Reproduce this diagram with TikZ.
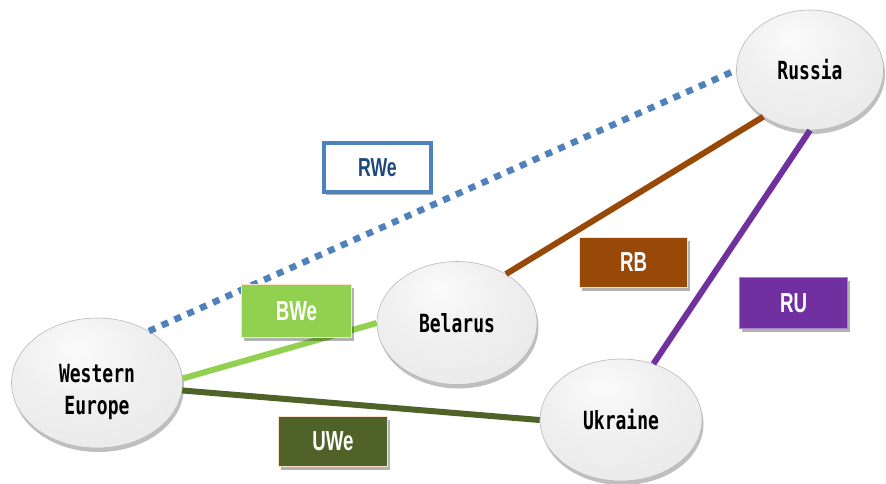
\documentclass[tikz,border=0pt]{standalone}
\usepackage{fontspec}
\newfontfamily\gothic[FakeStretch=0.72]{DejaVu Sans Mono}
\newfontfamily\boxfont[FakeStretch=0.68]{Liberation Sans}
\usetikzlibrary{shapes.geometric,shadows}
\definecolor{cblue}{HTML}{4F81BD}
\definecolor{cdblue}{HTML}{1F497D}
\definecolor{cbrown}{HTML}{984807}
\definecolor{cpurple}{HTML}{7030A0}
\definecolor{clgreen}{HTML}{92D050}
\definecolor{colive}{HTML}{4F6228}
\definecolor{cpeach}{HTML}{FBE0CC}
\pgfdeclareradialshading{bubble}{\pgfpoint{-6bp}{14bp}}{color(0bp)=(gray!3); color(18bp)=(gray!12); color(40bp)=(gray!18); color(52bp)=(gray!30); color(70bp)=(gray!45)}
\tikzset{
  country/.style={ellipse, shading=bubble, draw=gray!55, line width=0.6pt,
    drop shadow={shadow xshift=1.5pt, shadow yshift=-4pt, fill=black, opacity=0.25},
    font=\gothic\bfseries\fontsize{25}{32}\selectfont, align=center, inner sep=0pt},
  tag/.style={rectangle, inner sep=0pt, minimum width=#1,
    font=\boxfont\bfseries\fontsize{27.5}{30}\selectfont, text=white,
    drop shadow={shadow xshift=2pt, shadow yshift=-3pt, fill=black, opacity=0.3}},
  link/.style={line width=6pt}
}
\begin{document}
\begin{tikzpicture}[x=1pt,y=-1pt]
\useasboundingbox (0,0) rectangle (886,483);
% countries
\node[country, minimum width=171pt, minimum height=130pt] (we) at (97,383) {\raisebox{-9pt}[\height][\depth]{\begin{tabular}{@{}c@{}}Western\\Europe\end{tabular}}};
\node[country, minimum width=147pt, minimum height=120pt] (ru) at (810,70) {Russia};
\node[country, minimum width=160pt, minimum height=123pt] (be) at (457,323) {Belarus};
\node[country, minimum width=162pt, minimum height=122pt] (uk) at (621,420) {Ukraine};
% connectors
\draw[link, cblue, line width=6.5pt, dash pattern=on 7pt off 7pt] (we.45) -- (ru.west);
\draw[link, cbrown] (be.45) -- (ru.225);
\draw[link, cpurple] (ru.south) -- (uk.60);
\draw[link, clgreen] (we.3) -- (be.west);
\draw[link, colive] (we.-5) -- (uk.west);
% label boxes
\node[tag=107pt, minimum height=49pt, fill=white, draw=cblue, line width=4pt, text=cdblue, font=\boxfont\bfseries\fontsize{26}{30}\selectfont, drop shadow={opacity=0}] (lrwe) at (377.5,167.5) {RWe};
\node[tag=110pt, minimum height=53pt, fill=clgreen, draw=cpeach, line width=1pt] (lbwe) at (296.5,311) {BWe};
\node[tag=108pt, minimum height=50pt, fill=cbrown, draw=cpeach, line width=1pt] (lrb) at (633.5,262.5) {RB};
\node[tag=108pt, minimum height=51pt, fill=cpurple, draw=cpurple!60, line width=1pt] (lru) at (793.5,303) {RU};
\node[tag=109pt, minimum height=50pt, fill=colive, draw=cpeach, line width=1pt] (luwe) at (333,441.5) {UWe};
\end{tikzpicture}
\end{document}
